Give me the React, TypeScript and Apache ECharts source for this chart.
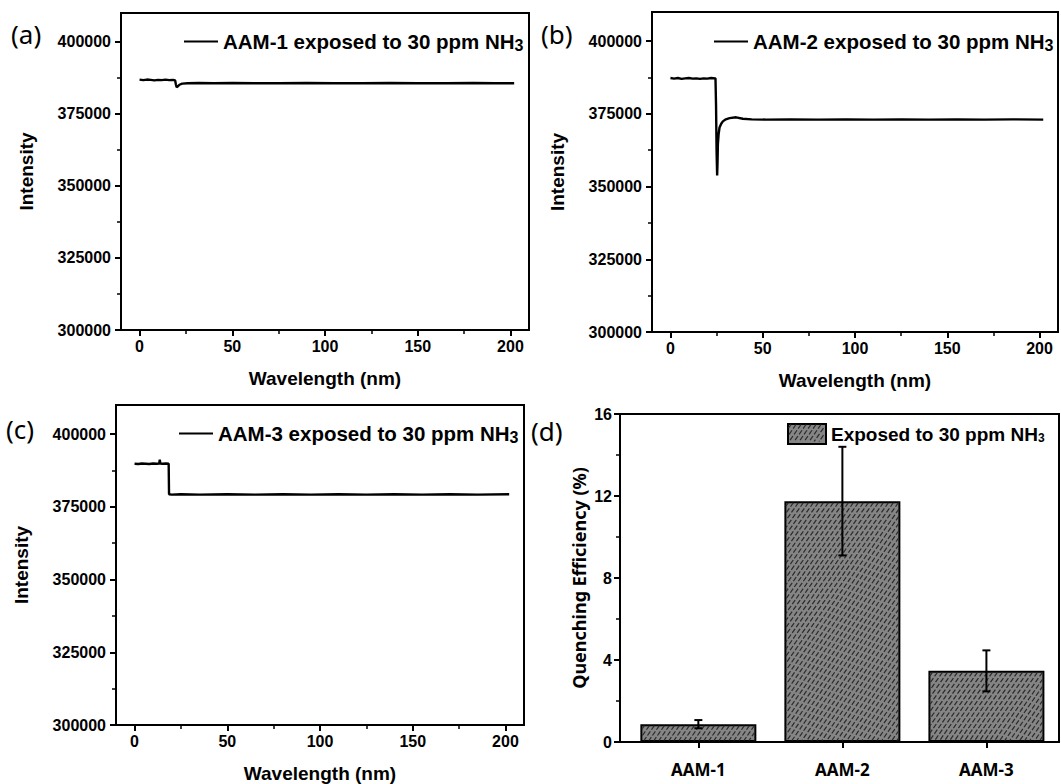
import React, { useEffect, useRef } from "react";
import * as echarts from "echarts";

// ---------- data ----------
const aam1Data: [number, number][] = [
  [0, 386900], [2, 386700], [4, 386900], [6, 386800], [8, 386600], [10, 386800],
  [12, 386700], [14, 386900], [16, 386700], [18, 386800], [19.2, 386600], [19.6, 385200],
  [20, 384300], [20.6, 384500], [21.5, 385100], [23, 385500], [26, 385600], [32, 385700],
  [40, 385600], [50, 385700], [62, 385600], [75, 385600], [90, 385700], [105, 385600],
  [120, 385600], [135, 385700], [150, 385600], [165, 385600], [180, 385700], [192, 385600],
  [202, 385600],
];
const aam2Data: [number, number][] = [
  [0, 387300], [2, 387100], [4, 387300], [6, 387000], [8, 387200], [10, 387300],
  [12, 387100], [14, 387200], [16, 387000], [18, 387200], [20, 387100], [22, 387300],
  [24.4, 387200], [24.7, 378000], [25.0, 362000], [25.3, 353800], [25.5, 358000],
  [25.7, 364500], [26.1, 368000], [26.6, 370300], [27.5, 371600], [28.4, 372400],
  [30, 373100], [32, 373500], [35.6, 373800], [39.2, 373300], [44, 373100], [52, 373000],
  [65, 373100], [80, 373000], [95, 373100], [110, 373000], [125, 373100], [140, 373000],
  [155, 373100], [170, 373000], [185, 373100], [202, 373000],
];
const aam3Data: [number, number][] = [
  [0, 389800], [2, 389700], [4, 389900], [6, 389800], [8, 389700], [10, 389900],
  [12, 389800], [13.3, 389900], [13.6, 391200], [13.9, 389900], [15, 389800], [17, 389900],
  [18.4, 389800], [18.6, 379300], [20, 379200], [25, 379300], [35, 379200], [50, 379300],
  [65, 379200], [80, 379300], [95, 379200], [110, 379300], [125, 379200], [140, 379300],
  [155, 379200], [170, 379300], [185, 379200], [202, 379300],
];
const lineNames = [
  "AAM-1 exposed to 30 ppm NH3",
  "AAM-2 exposed to 30 ppm NH3",
  "AAM-3 exposed to 30 ppm NH3",
];
const xMajorTicks = [0, 50, 100, 150, 200];
const xMinorTicks = [25, 75, 125, 175];
const yMajorTicks = [300000, 325000, 350000, 375000, 400000];
const yMinorTicks = [312500, 337500, 362500, 387500];

const samples = ["AAM-1", "AAM-2", "AAM-3"];
const quench = [0.87, 11.75, 3.47];
const quenchErr = [0.2, 2.65, 1.0];
const barName = "Exposed to 30 ppm NH3";
const panelLabels = ["(a)", "(b)", "(c)", "(d)"];

// ---------- styles ----------
const FONT = "'Liberation Sans', Arial, sans-serif";
const FONT2 = "'Noto Sans', 'Open Sans', sans-serif";
const BLACK = "#000";
const BAR_W = 116;

const grids = [
  { left: 121, top: 13, width: 408, height: 317 },
  { left: 652, top: 12, width: 406, height: 320 },
  { left: 116, top: 405, width: 408, height: 321 },
  { left: 620, top: 414, width: 439, height: 328 },
];

const tickLabel = { fontSize: 16, fontWeight: "bold", fontFamily: FONT, color: BLACK };
const plain = (v: number) => String(v);

// "/" hatch segments clipped to a screen rectangle
function hatchSegments(x0: number, y0: number, x1: number, y1: number) {
  const k = 0.7;
  const step = 5;
  const out: any[] = [];
  const cStart = x0 + k * y0;
  const cEnd = x1 + k * y1;
  for (let c = cStart + step / 2; c < cEnd; c += step) {
    const yA = Math.max(y0, (c - x1) / k);
    const yB = Math.min(y1, (c - x0) / k);
    if (yB - yA > 0.5) {
      out.push({ x1: c - k * yA, y1: yA, x2: c - k * yB, y2: yB });
    }
  }
  return out;
}
const hatchStyle = { stroke: "#2b2b2b", lineWidth: 1.2, lineDash: [5, 2] };

function lineAxes(g: number) {
  const xAxes = [
    {
      type: "value", gridIndex: g, position: "bottom", min: -10, max: 210,
      axisLine: { show: true, onZero: false, lineStyle: { color: BLACK, width: 2 } },
      axisTick: { show: true, inside: false, customValues: xMajorTicks, length: 6, lineStyle: { color: BLACK, width: 2 } },
      axisLabel: { ...tickLabel, customValues: xMajorTicks, margin: 8, formatter: plain },
      splitLine: { show: false },
      name: "Wavelength (nm)", nameLocation: "middle", nameGap: 39,
      nameTextStyle: { fontSize: 19, fontWeight: "bold", fontFamily: FONT, color: BLACK },
    },
    {
      type: "value", gridIndex: g, position: "bottom", min: -10, max: 210,
      axisLine: { show: false, onZero: false },
      axisTick: { show: true, inside: false, customValues: xMinorTicks, length: 4, lineStyle: { color: BLACK, width: 1.5 } },
      axisLabel: { show: false },
      splitLine: { show: false },
    },
  ];
  const yAxes = [
    {
      type: "value", gridIndex: g, position: "left", min: 300000, max: 410000,
      axisLine: { show: true, onZero: false, lineStyle: { color: BLACK, width: 2 } },
      axisTick: { show: true, inside: false, customValues: yMajorTicks, length: 6, lineStyle: { color: BLACK, width: 2 } },
      axisLabel: { ...tickLabel, customValues: yMajorTicks, margin: 10, formatter: plain },
      splitLine: { show: false },
      name: "Intensity", nameLocation: "middle", nameGap: 85,
      nameTextStyle: { fontSize: 19, fontWeight: "bold", fontFamily: FONT, color: BLACK },
    },
    {
      type: "value", gridIndex: g, position: "left", min: 300000, max: 410000,
      axisLine: { show: false, onZero: false },
      axisTick: { show: true, inside: false, customValues: yMinorTicks, length: 4, lineStyle: { color: BLACK, width: 1.5 } },
      axisLabel: { show: false },
      splitLine: { show: false },
    },
  ];
  return { xAxes, yAxes };
}

const lineRich = {
  n: { fontSize: 20.5, fontWeight: "bold", fontFamily: FONT, color: BLACK, lineHeight: 24 },
  s: { fontSize: 16, fontWeight: "bold", fontFamily: FONT, color: BLACK, lineHeight: 9, verticalAlign: "bottom" },
};
const barRich = {
  n: { fontSize: 19, fontWeight: "bold", fontFamily: FONT, color: BLACK, lineHeight: 20 },
  s: { fontSize: 12, fontWeight: "bold", fontFamily: FONT, color: BLACK, lineHeight: 8, verticalAlign: "bottom" },
};
const subFormatter = (name: string) => "{n|" + name.slice(0, -1) + "}{s|" + name.slice(-1) + "}";

export default function App() {
  const ref = useRef<HTMLDivElement>(null);
  useEffect(() => {
    if (!ref.current) return;
    const chart = echarts.init(ref.current, null, { renderer: "svg" });

    const xAxis: any[] = [];
    const yAxis: any[] = [];
    const lineData = [aam1Data, aam2Data, aam3Data];
    const series: any[] = [];
    for (let g = 0; g < 3; g++) {
      const { xAxes, yAxes } = lineAxes(g);
      xAxis.push(...xAxes);
      yAxis.push(...yAxes);
      series.push({
        type: "line", name: lineNames[g], xAxisIndex: 2 * g, yAxisIndex: 2 * g,
        data: lineData[g], symbol: "none", showSymbol: false, color: BLACK,
        lineStyle: { color: BLACK, width: 2.4 }, itemStyle: { color: BLACK },
      });
    }
    // panel d axes
    const catPos = samples.map((_, i) => i + 1);
    xAxis.push({
      type: "value", gridIndex: 3, position: "bottom", min: 0.456, max: 3.504,
      axisLine: { show: true, onZero: false, lineStyle: { color: BLACK, width: 2 } },
      axisTick: { show: true, customValues: catPos, length: 6, lineStyle: { color: BLACK, width: 2 } },
      axisLabel: {
        customValues: catPos, margin: 19, lineHeight: 17, fontSize: 17, fontWeight: "bold", fontFamily: FONT2, color: BLACK,
        formatter: (v: number) => samples[Math.round(v) - 1] ?? "",
      },
      splitLine: { show: false },
    });
    yAxis.push({
      type: "value", gridIndex: 3, position: "left", min: 0, max: 16, interval: 4,
      axisLine: { show: true, onZero: false, lineStyle: { color: BLACK, width: 2 } },
      axisTick: { show: true, length: 6, lineStyle: { color: BLACK, width: 2 } },
      minorTick: { show: true, splitNumber: 2, length: 4, lineStyle: { color: BLACK, width: 1.5 } },
      axisLabel: { ...tickLabel, margin: 8 },
      splitLine: { show: false },
      name: "Quenching Efficiency (%)", nameLocation: "middle", nameGap: 32,
      nameTextStyle: { fontSize: 18, fontWeight: "bold", fontFamily: FONT2, color: BLACK },
    });
    series.push({
      type: "bar", name: barName, xAxisIndex: 6, yAxisIndex: 6,
      data: quench.map((v, i) => [catPos[i], v]), barWidth: BAR_W,
      itemStyle: { color: "#858585", borderColor: BLACK, borderWidth: 2 },
    });
    series.push({
      type: "custom", name: "hatch", xAxisIndex: 6, yAxisIndex: 6, z: 3, silent: true,
      data: quench.map((v, i) => [catPos[i], v]),
      encode: { x: 0, y: 1 },
      renderItem: (params: any, api: any) => {
        const x = api.value(0);
        const top = api.coord([x, api.value(1)]);
        const bot = api.coord([x, 0]);
        const half = BAR_W / 2 - 1.5;
        const segs = hatchSegments(top[0] - half, top[1] + 1.5, top[0] + half, bot[1] - 1.5);
        return {
          type: "group",
          children: segs.map((s) => ({ type: "line", shape: s, style: hatchStyle })),
        };
      },
    });
    series.push({
      type: "custom", name: "err", xAxisIndex: 6, yAxisIndex: 6, z: 5,
      data: quench.map((v, i) => [catPos[i], v - quenchErr[i], v + quenchErr[i]]),
      encode: { x: 0, y: [1, 2] },
      renderItem: (params: any, api: any) => {
        const x = api.value(0);
        const lo = api.coord([x, api.value(1)]);
        const hi = api.coord([x, api.value(2)]);
        const cw = 4;
        const st = { stroke: BLACK, lineWidth: 2 };
        return {
          type: "group",
          children: [
            { type: "line", shape: { x1: lo[0], y1: lo[1], x2: hi[0], y2: hi[1] }, style: st },
            { type: "line", shape: { x1: lo[0] - cw, y1: lo[1], x2: lo[0] + cw, y2: lo[1] }, style: st },
            { type: "line", shape: { x1: hi[0] - cw, y1: hi[1], x2: hi[0] + cw, y2: hi[1] }, style: st },
          ],
        };
      },
    });

    const legend = [
      { left: 184, top: 31, name: lineNames[0] },
      { left: 714, top: 31, name: lineNames[1] },
      { left: 179, top: 423, name: lineNames[2] },
    ].map((l) => ({
      data: [l.name], left: l.left, top: l.top, padding: 0, icon: "rect",
      itemWidth: 34, itemHeight: 2, selectedMode: false, formatter: subFormatter,
      textStyle: { rich: lineRich },
    }));
    const legD = { left: 787, top: 423, w: 38, h: 20 };
    legend.push({
      data: [barName], left: legD.left, top: legD.top, padding: 0, icon: "rect",
      itemWidth: legD.w, itemHeight: legD.h, selectedMode: false, formatter: subFormatter,
      textStyle: { rich: barRich },
    } as any);

    const labelPos = [
      [11, 38], [541, 38], [6, 433], [531, 435],
    ];
    const graphic: any[] = panelLabels.map((t, i) => ({
      type: "text", left: labelPos[i][0], top: labelPos[i][1] - 17, silent: true,
      style: { text: t, fontSize: 26, fontFamily: FONT2, fill: BLACK },
    }));
    // hatch over the legend swatch of panel (d)
    hatchSegments(legD.left + 1.5, legD.top + 1.5, legD.left + legD.w - 1.5, legD.top + legD.h - 1.5)
      .forEach((s) => {
        graphic.push({ type: "line", shape: s, style: hatchStyle, silent: true, z: 100, zlevel: 0 });
      });

    chart.setOption({
      animation: false,
      backgroundColor: "#fff",
      color: [BLACK],
      grid: grids.map((g) => ({ ...g, show: true, borderColor: BLACK, borderWidth: 2, containLabel: false })),
      xAxis, yAxis, series, legend, graphic,
    });
    return () => chart.dispose();
  }, []);
  return (
    <div
      ref={ref}
      style={{ position: "fixed", left: 0, top: 0, width: 1061, height: 784, background: "#fff" }}
    />
  );
}
